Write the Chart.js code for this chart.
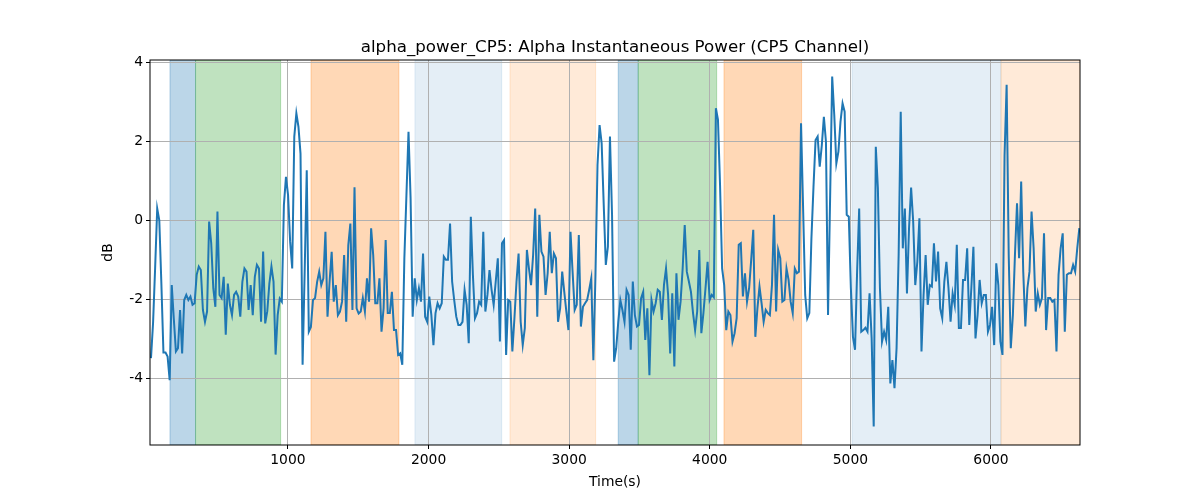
<!DOCTYPE html>
<html>
<head>
<meta charset="utf-8">
<script src="https://cdn.jsdelivr.net/npm/chart.js@4.4.1/dist/chart.umd.min.js"></script>
<style>
  html, body { margin: 0; padding: 0; background: #fff; }
</style>
</head>
<body>
<canvas id="chart" width="1200" height="500"></canvas>
<script>
/* =========================
   DATA
========================= */
const TITLE = "alpha_power_CP5: Alpha Instantaneous Power (CP5 Channel)";
const X_LABEL = "Time(s)";
const Y_LABEL = "dB";

// sample clock of the series
const T0 = 26;
const STEP = 14.77;

// alpha power in dB, one value per sample
const alphaPower = [
  // 26 s .. ~840 s
  -3.49, -2.6, -1.2, 0.3, 0.0, -1.6, -3.35, -3.35, -3.45, -4.05, -1.64, -2.5, -3.32, -3.24, -2.27, -3.37,
  -2.02, -1.89, -2.02, -1.93, -2.14, -2.1, -1.38, -1.17, -1.26, -2.27, -2.57, -2.31, -0.03, -0.58, -1.72,
  -2.19, 0.22, -1.89, -1.97, -1.43, -2.9, -1.6, -2.14, -2.4, -1.89, -1.81, -1.93, -2.44, -1.56, -1.22, -1.3,
  -2.27, -1.64, -2.4, -1.43, -1.13, -1.22, -2.57, -0.79, -2.61,
  // ~855 s .. ~1700 s
  -2.3, -1.6, -1.17, -1.55, -3.4, -2.4, -1.98, -2.06, 0.39, 1.1, 0.64, -0.54, -1.22, 2.12, 2.71, 2.37, 1.69,
  -3.66, -1.3, 1.27, -2.82, -2.7, -2.02, -1.97, -1.56, -1.3, -1.64, -1.47, -0.29, -2.44, -1.55, -0.8, -2.06,
  -1.64, -2.4, -2.31, -2.06, -0.88, -2.57, -0.63, -0.08, -2.27, 0.84, -2.23, -2.36, -2.31, -1.97, -2.31,
  -1.47, -2.06, -0.2, -0.88, -2.1, -2.1, -1.47, -2.82, -2.23, -0.5,
  // ~1710 s .. ~2540 s
  -2.35, -2.35, -1.81, -2.78, -2.78, -3.41, -3.37, -3.66, -0.96, 0.64, 2.24, 0.56, -2.44, -1.47, -2.02,
  -1.72, -2.06, -0.84, -2.44, -2.57, -1.93, -2.4, -3.16, -2.35, -2.1, -2.23, -2.1, -0.92, -1.0, -1.0, -0.08,
  -1.55, -2.02, -2.44, -2.65, -2.65, -2.57, -1.76, -2.14, -3.11, 0.09, -1.38, -2.48, -2.35, -2.06, -2.14,
  -0.29, -2.31, -1.89, -1.26, -1.76, -2.14, -1.55, -0.96, -3.07, -0.58, -0.5,
  // ~2560 s .. ~3390 s
  -3.41, -2.02, -2.06, -3.32, -2.48, -1.55, -0.84, -2.57, -3.16, -2.73, -0.75, -1.22, -1.64, -0.88, 0.3,
  -2.44, 0.14, -0.79, -0.92, -1.89, -1.34, -0.29, -1.34, -0.84, -0.96, -2.57, -2.23, -1.3, -1.81, -2.31,
  -2.78, -0.29, -1.3, -2.27, -2.14, -0.37, -2.69, -2.19, -2.1, -2.02, -1.76, -1.47, -3.54, -1.43, 1.4, 2.41,
  1.95, 0.39, -1.13, -0.67, 2.12, 0.14, -3.58, -3.24, -2.57, -2.02, -2.27,
  // ~3400 s .. ~4260 s
  -2.57, -1.76, -1.89, -3.28, -1.55, -2.4, -2.69, -2.65, -1.97, -1.81, -3.03, -2.23, -3.92, -2.02, -2.31,
  -2.1, -1.76, -1.81, -2.52, -1.64, -1.22, -1.89, -3.37, -1.85, -3.7, -1.34, -2.52, -2.06, -1.22, -0.12,
  -1.3, -1.55, -1.81, -2.35, -2.78, -2.31, -0.75, -2.86, -2.35, -1.72, -1.05, -2.02, -1.89, -1.95, 2.84, 2.55,
  0.9, -1.22, -1.64, -2.78, -2.31, -2.4, -3.07, -2.86, -2.48, -0.62, -0.58, -1.93, -1.34,
  // ~4270 s .. ~5100 s
  -2.06, -1.72, -1.0, -0.24, -2.95, -2.23, -1.68, -2.1, -2.57, -2.27, -2.35, -2.4, -1.64, 0.14, -2.31,
  -0.75, -0.96, -2.06, -2.02, -1.22, -1.51, -2.06, -2.35, -1.22, -1.34, -1.3, 2.46, 0.3, -1.89, -2.48,
  -2.35, -0.46, 0.85, 2.03, 2.12, 1.36, 1.9, 2.62, 1.99, -2.4, 0.56, 3.64, 2.67, 1.44, 1.74, 2.5, 2.96, 2.75,
  0.14, 0.09, -1.72, -2.95, -3.28, -1.3, 0.3, -2.82, -2.78,
  // ~5130 s .. ~5960 s
  -2.72, -2.82, -1.85, -2.99, -5.22, 1.86, 0.81, -1.72, -3.07, -2.82, -3.03, -2.19, -4.13, -3.54, -4.25,
  -3.24, -0.88, 2.75, -0.71, 0.3, -1.85, -0.2, 0.83, -0.03, -1.64, -1.05, 0.05, -3.32, -1.89, -0.88, -2.14,
  -1.64, -1.68, -0.58, -1.55, -0.79, -2.23, -2.48, -1.55, -1.05, -1.72, -2.57, -1.85, -2.14, -0.62, -2.73,
  -2.73, -1.51, -1.51, -0.71, -2.65, -1.72, -0.67, -2.99, -2.4, -1.51, -2.1, -1.89,
  // ~5980 s .. end
  -1.89, -2.82, -2.65, -2.19, -3.16, -1.09, -1.64, -3.07, -3.41, 1.65, 3.43, -0.88, -3.24, -2.4, -0.88,
  0.43, -0.96, 0.98, -1.3, -2.69, -1.72, -1.3, 0.22, -0.71, -2.31, -1.85, -2.14, -1.97, -0.33, -2.78, -1.97,
  -1.97, -2.06, -2.02, -3.32, -1.38, -0.71, -0.33, -2.82, -1.38, -1.34, -1.34, -1.13, -1.3, -0.71, -0.2,
];

// shaded task periods (seconds)
const spanStart = [161, 343, 1164, 1903, 2579, 3349, 3491, 4101, 5012, 6071];
const spanEnd   = [343, 948, 1789, 2520, 3188, 3491, 4049, 4653, 6071, 6633];
const spanKind  = ["blue", "green", "orange", "paleBlue", "paleOrange",
                   "blue", "green", "orange", "paleBlue", "paleOrange"];

// axes
const X_MIN = 19, X_MAX = 6633;
const Y_MIN = -5.69, Y_MAX = 4.06;
const xTicks = [1000, 2000, 3000, 4000, 5000, 6000];
const yTicks = [-4, -2, 0, 2, 4];

/* =========================
   STYLE
========================= */
const FONT = "'DejaVu Sans', sans-serif";
const SPAN_STYLE = {
  blue:       { fill: "rgba(31,119,180,0.3)",  edge: "rgba(31,119,180,0.3)" },
  green:      { fill: "rgba(44,160,44,0.3)",   edge: "rgba(44,160,44,0.3)" },
  orange:     { fill: "rgba(255,127,14,0.3)",  edge: "rgba(255,127,14,0.3)" },
  paleBlue:   { fill: "rgba(31,119,180,0.12)", edge: "rgba(31,119,180,0.12)" },
  paleOrange: { fill: "rgba(255,127,14,0.16)", edge: "rgba(255,127,14,0.16)" },
};

/* =========================
   PLUGINS
========================= */
const spansPlugin = {
  id: "spans",
  beforeDraw(chart) {
    const { ctx, chartArea: a, scales: { x } } = chart;
    ctx.save();
    ctx.beginPath();
    ctx.rect(a.left, a.top, a.right - a.left, a.bottom - a.top);
    ctx.clip();
    spanStart.forEach((s, i) => {
      const x0 = x.getPixelForValue(s);
      const x1 = x.getPixelForValue(spanEnd[i]);
      const st = SPAN_STYLE[spanKind[i]];
      ctx.fillStyle = st.fill;
      ctx.fillRect(x0, a.top, x1 - x0, a.bottom - a.top);
      ctx.strokeStyle = st.edge;
      ctx.lineWidth = 1;
      ctx.strokeRect(x0, a.top, x1 - x0, a.bottom - a.top);
    });
    ctx.restore();
  },
};

const framePlugin = {
  id: "frame",
  afterDraw(chart) {
    const { ctx, chartArea: a } = chart;
    ctx.save();
    ctx.strokeStyle = "#000";
    ctx.lineWidth = 1;
    ctx.strokeRect(a.left, a.top, a.right - a.left, a.bottom - a.top);

    ctx.fillStyle = "#000";
    ctx.textAlign = "center";
    const cx = (a.left + a.right) / 2;

    ctx.font = "16.67px " + FONT;
    ctx.textBaseline = "alphabetic";
    ctx.fillText(TITLE, cx, a.top - 8);

    ctx.font = "13.89px " + FONT;
    ctx.fillText(X_LABEL, cx, 486);

    ctx.translate(112, (a.top + a.bottom) / 2);
    ctx.rotate(-Math.PI / 2);
    ctx.fillText(Y_LABEL, 0, 0);
    ctx.restore();
  },
};

/* =========================
   CHART
========================= */
const points = alphaPower.map((v, i) => ({ x: T0 + i * STEP, y: v }));

const axisCommon = {
  grid: { color: "#b0b0b0", lineWidth: 1, tickColor: "#000", tickLength: 4, tickWidth: 1 },
  border: { display: false },
  ticks: {
    color: "#000",
    font: { family: FONT, size: 13.89 },
    padding: 3,
    autoSkip: false,
    maxRotation: 0,
    callback: (v) => String(v),
  },
};

new Chart(document.getElementById("chart"), {
  type: "line",
  data: {
    datasets: [
      {
        data: points,
        borderColor: "#1f77b4",
        borderWidth: 2,
        pointRadius: 0,
        tension: 0,
        fill: false,
      },
    ],
  },
  options: {
    responsive: false,
    animation: false,
    devicePixelRatio: 1,
    layout: { padding: { top: 60, right: 120, left: 0, bottom: 0 } },
    plugins: {
      legend: { display: false },
      tooltip: { enabled: false },
      title: { display: false },
    },
    scales: {
      x: {
        ...axisCommon,
        type: "linear",
        min: X_MIN,
        max: X_MAX,
        afterBuildTicks: (s) => { s.ticks = xTicks.map((v) => ({ value: v })); },
        afterFit: (s) => { s.height = 55; },
      },
      y: {
        ...axisCommon,
        type: "linear",
        min: Y_MIN,
        max: Y_MAX,
        afterBuildTicks: (s) => { s.ticks = yTicks.map((v) => ({ value: v })); },
        afterFit: (s) => { s.width = 150; },
      },
    },
  },
  plugins: [spansPlugin, framePlugin],
});
</script>
</body>
</html>
